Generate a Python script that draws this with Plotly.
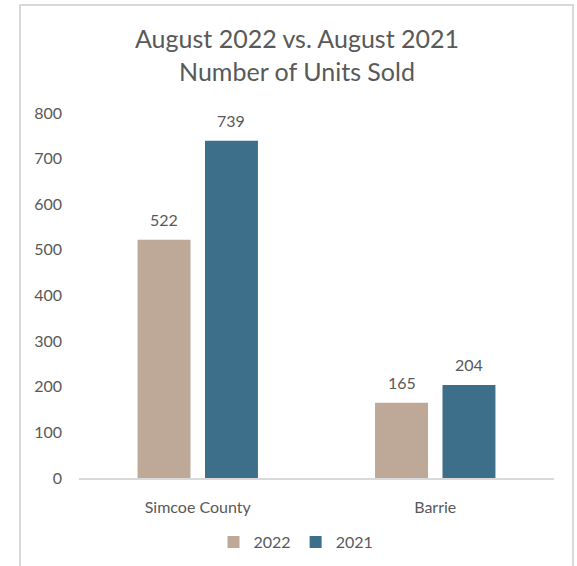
import plotly.graph_objects as go

categories = ["Simcoe County", "Barrie"]
series_names = ["2022", "2021"]
values_2022 = [522, 165]
values_2021 = [739, 204]
y_ticks = [0, 100, 200, 300, 400, 500, 600, 700, 800]

colors = {"2022": "#BEA999", "2021": "#3E6F8A"}
font_family = "Lato, 'Open Sans', sans-serif"
text_color = "#595959"

W, H = 577, 566
L, R, T, B = 79, 23, 113, 88
pw, ph = W - L - R, H - T - B
bargap, bargroupgap = 0.432, 0.215

fig = go.Figure()
for name, vals in zip(series_names, [values_2022, values_2021]):
    fig.add_trace(go.Bar(
        x=categories, y=vals, name=name,
        marker=dict(color=colors[name], line=dict(width=0)),
        hoverinfo="x+y+name",
    ))

# data labels above each bar
slot = (pw / len(categories)) * (1 - bargap) / len(series_names)
for i, (name, vals) in enumerate(zip(series_names, [values_2022, values_2021])):
    shift = (i - (len(series_names) - 1) / 2) * slot
    for cat, v in zip(categories, vals):
        fig.add_annotation(
            x=cat, y=v, text=str(v), showarrow=False,
            xanchor="center", yanchor="bottom", xshift=shift, yshift=9,
            font=dict(size=16, color=text_color, family=font_family),
        )


def px_x(p):
    return (p - L) / pw


def px_y(p):
    return (H - B - p) / ph


fig.update_layout(
    width=W, height=H,
    margin=dict(l=L, r=R, t=T, b=B, autoexpand=False),
    paper_bgcolor="white", plot_bgcolor="white",
    barmode="group", bargap=bargap, bargroupgap=bargroupgap,
    font=dict(family=font_family, color=text_color, size=16),
    title=dict(
        text="August 2022 vs. August 2021<br>Number of Units Sold",
        x=297 / W, xref="container", xanchor="center",
        y=1 - 48 / H, yref="container", yanchor="middle",
        font=dict(size=25, color=text_color, family=font_family),
    ),
    showlegend=True,
    legend=dict(
        orientation="h", xref="container", yref="container",
        x=296 / W, xanchor="center",
        y=1 - 542 / H, yanchor="middle",
        font=dict(size=16, color=text_color, family=font_family),
        itemwidth=30, traceorder="normal",
    ),
    xaxis=dict(
        showline=True, linecolor="#D9D9D9", linewidth=1.5,
        showgrid=False, ticks="outside", ticklen=14, tickcolor="rgba(0,0,0,0)",
        tickfont=dict(size=16, color=text_color),
    ),
    yaxis=dict(
        range=[0, 800], tickvals=y_ticks, showgrid=False, zeroline=False,
        showline=False, ticklabelstandoff=16,
        tickfont=dict(size=16, color=text_color),
    ),
    shapes=[dict(
        type="rect", xref="paper", yref="paper",
        x0=px_x(20), x1=px_x(573), y0=px_y(575), y1=px_y(5),
        line=dict(color="#D9D9D9", width=2), fillcolor="rgba(0,0,0,0)",
        layer="below",
    )],
)

fig.write_html(
    "out.html",
    config={"displayModeBar": False},
    post_script="document.body.style.margin='0';document.body.style.overflow='hidden';",
)
